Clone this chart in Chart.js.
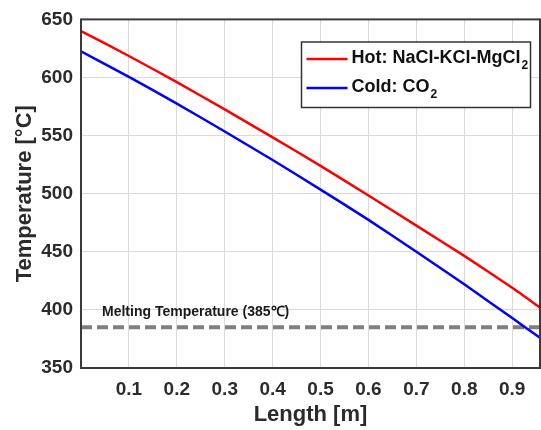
<!DOCTYPE html>
<html>
<head>
<meta charset="utf-8">
<script src="https://cdn.jsdelivr.net/npm/chart.js@4"></script>
<style>
  html, body { margin: 0; padding: 0; background: #fff; }
  #wrap { width: 541px; height: 430px; }
</style>
</head>
<body>
<div id="wrap"><canvas id="tempChart" width="541" height="430"></canvas></div>
<script>
// Temperature profiles along the heat exchanger length
var lengthM = [0, 0.1, 0.2, 0.3, 0.4, 0.5, 0.6, 0.7, 0.8, 0.9, 0.958];
var hotTemp = [640, 618.5, 596, 572.5, 548.5, 524, 498.5, 472.5, 446.5, 419, 402];
var coldTemp = [622.5, 600.5, 577.5, 553.5, 529, 503.5, 477.5, 450, 422, 393, 376];
var meltTemp = 385;

var xTicks = [0.1, 0.2, 0.3, 0.4, 0.5, 0.6, 0.7, 0.8, 0.9];
var yTicks = [350, 400, 450, 500, 550, 600, 650];

var seriesNames = ['Hot: NaCl-KCl-MgCl', 'Cold: CO'];
var seriesSubs = ['2', '2'];
var meltLabel = 'Melting Temperature (' + meltTemp + '\u2103)';

var FONT = '"Liberation Sans", Arial, sans-serif';
var TEXT = '#2b2b2b';

function toPoints(ys) {
    return lengthM.map(function (x, i) { return { x: x, y: ys[i] }; });
}

// box around the plot, legend and the melting label
var framePlugin = {
    id: 'frame',
    afterDatasetsDraw: function (chart) {
        var ctx = chart.ctx;
        var a = chart.chartArea;
        ctx.save();

        // melting label
        var yMelt = chart.scales.y.getPixelForValue(meltTemp);
        ctx.fillStyle = '#1a1a1a';
        ctx.font = 'bold 14px ' + FONT;
        ctx.textBaseline = 'middle';
        ctx.textAlign = 'left';
        ctx.fillText(meltLabel, a.left + 21, yMelt - 15);

        // plot border
        ctx.strokeStyle = '#3a3a3a';
        ctx.lineWidth = 2;
        ctx.strokeRect(a.left, a.top, a.right - a.left, a.bottom - a.top);

        // legend
        var lx = 301.5, ly = 42, lw = 229, lh = 65.5;
        ctx.fillStyle = '#fff';
        ctx.fillRect(lx, ly, lw, lh);
        ctx.lineWidth = 1.5;
        ctx.strokeStyle = '#333';
        ctx.strokeRect(lx, ly, lw, lh);

        var rows = [59, 88];
        chart.data.datasets.slice(0, 2).forEach(function (ds, i) {
            ctx.strokeStyle = ds.borderColor;
            ctx.lineWidth = 2.5;
            ctx.beginPath();
            ctx.moveTo(lx + 5, rows[i]);
            ctx.lineTo(lx + 46, rows[i]);
            ctx.stroke();

            ctx.fillStyle = '#111';
            ctx.font = 'bold 18px ' + FONT;
            ctx.textBaseline = 'middle';
            ctx.fillText(seriesNames[i], lx + 50, rows[i] - 1);
            var w = ctx.measureText(seriesNames[i]).width;
            ctx.font = 'bold 12px ' + FONT;
            ctx.fillText(seriesSubs[i], lx + 51 + w, rows[i] + 7);
        });
        ctx.restore();
    }
};

var ctx = document.getElementById('tempChart').getContext('2d');
var tempChart = new Chart(ctx, {
    type: 'line',
    data: {
        datasets: [{
            label: 'Hot',
            data: toPoints(hotTemp),
            borderColor: '#ff0000',
            borderWidth: 2.5,
            pointRadius: 0,
            tension: 0.2
        }, {
            label: 'Cold',
            data: toPoints(coldTemp),
            borderColor: '#0000ff',
            borderWidth: 2.5,
            pointRadius: 0,
            tension: 0.2
        }, {
            label: 'Melting',
            data: [{ x: lengthM[0], y: meltTemp }, { x: lengthM[lengthM.length - 1], y: meltTemp }],
            borderColor: '#7f7f7f',
            borderWidth: 4,
            borderDash: [11, 5],
            pointRadius: 0
        }]
    },
    options: {
        responsive: false,
        animation: false,
        layout: { padding: { top: 17, right: 1, left: 0, bottom: 0 } },
        plugins: {
            legend: { display: false },
            tooltip: { enabled: false }
        },
        scales: {
            x: {
                type: 'linear',
                min: lengthM[0],
                max: lengthM[lengthM.length - 1],
                afterBuildTicks: function (axis) {
                    axis.ticks = xTicks.map(function (v) { return { value: v }; });
                },
                afterFit: function (axis) { axis.height = 62; },
                grid: { color: '#dadada', lineWidth: 1, drawTicks: false },
                border: { display: false },
                ticks: {
                    padding: 10,
                    color: TEXT,
                    font: { family: FONT, size: 19, weight: 'bold' },
                    maxRotation: 0,
                    callback: function (v) { return v.toFixed(1); }
                },
                title: {
                    display: true,
                    text: 'Length [m]',
                    color: TEXT,
                    font: { family: FONT, size: 22, weight: 'bold' },
                    padding: { top: 0, bottom: 2 }
                }
            },
            y: {
                type: 'linear',
                min: yTicks[0],
                max: yTicks[yTicks.length - 1],
                afterBuildTicks: function (axis) {
                    axis.ticks = yTicks.map(function (v) { return { value: v }; });
                },
                afterFit: function (axis) { axis.width = 81; },
                grid: { color: '#dadada', lineWidth: 1, drawTicks: false },
                border: { display: false },
                ticks: {
                    padding: 8,
                    color: TEXT,
                    font: { family: FONT, size: 19, weight: 'bold' }
                },
                title: {
                    display: true,
                    text: 'Temperature [\u00b0C]',
                    color: TEXT,
                    font: { family: FONT, size: 22, weight: 'bold' },
                    padding: { top: 12, bottom: 0 }
                }
            }
        }
    },
    plugins: [framePlugin]
});
</script>
</body>
</html>
